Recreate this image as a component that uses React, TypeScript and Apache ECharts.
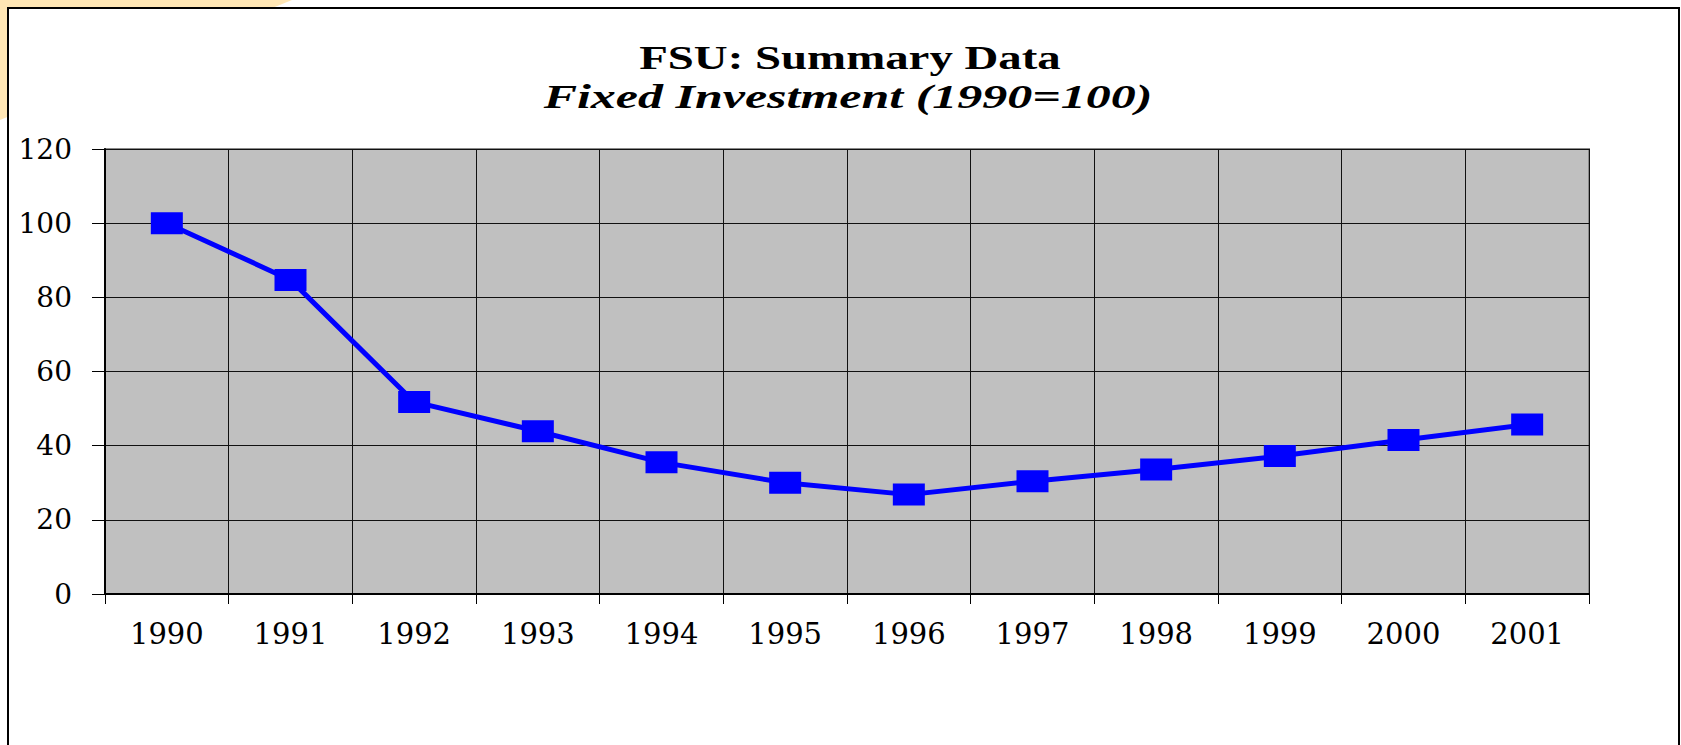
import React, { useEffect, useRef } from "react";
import * as echarts from "echarts";

const years = ["1990", "1991", "1992", "1993", "1994", "1995", "1996", "1997", "1998", "1999", "2000", "2001"];
const fixedInvestment = [100, 84.7, 51.8, 43.9, 35.5, 30.0, 26.8, 30.4, 33.6, 37.2, 41.5, 45.7];
const yTicks = { min: 0, max: 120, interval: 20 };
const titleText = "FSU: Summary Data";
const subtitleText = "Fixed Investment (1990=100)";

export default function App() {
  const ref = useRef<HTMLDivElement>(null);
  useEffect(() => {
    if (!ref.current) return;
    const chart = echarts.init(ref.current, undefined, { renderer: "svg" });
    const serif = '"Liberation Serif", "Times New Roman", serif';
    const labelFont = '"DejaVu Serif", serif';
    chart.setOption({
      animation: false,
      backgroundColor: "#ffffff",
      graphic: [
        {
          type: "polygon",
          z: -20,
          shape: { points: [[0, 0], [292, 0], [0, 120]] },
          style: { fill: "#FFE6B4" },
        },
        {
          type: "rect",
          z: -10,
          shape: { x: 8, y: 8, width: 1671, height: 780 },
          style: { fill: "#ffffff", stroke: "#000000", lineWidth: 2 },
        },
        {
          type: "text",
          z: 100,
          x: 850,
          y: 58,
          scaleX: 1.42,
          style: {
            text: titleText,
            x: 0,
            y: 0,
            align: "center",
            verticalAlign: "middle",
            fontFamily: serif,
            fontWeight: "bold",
            fontSize: 33,
            fill: "#000000",
          },
        },
        {
          type: "text",
          z: 100,
          x: 848,
          y: 97,
          scaleX: 1.515,
          style: {
            text: subtitleText,
            x: 0,
            y: 0,
            align: "center",
            verticalAlign: "middle",
            fontFamily: serif,
            fontWeight: "bold",
            fontStyle: "italic",
            fontSize: 33,
            fill: "#000000",
          },
        },
      ],
      grid: {
        left: 105,
        right: 92,
        top: 149,
        bottom: 151,
        show: true,
        backgroundColor: "#C0C0C0",
        borderColor: "#8a8a8a",
        borderWidth: 2,
      },
      xAxis: {
        type: "category",
        data: years,
        boundaryGap: true,
        axisLine: { show: true, lineStyle: { color: "#000000", width: 2 } },
        axisTick: { show: true, length: 10, interval: 0, lineStyle: { color: "#000000", width: 1 } },
        axisLabel: {
          interval: 0,
          margin: 25,
          fontFamily: labelFont,
          fontSize: 29,
          color: "#000000",
        },
        splitLine: { show: true, interval: 0, lineStyle: { color: "#111111", width: 1 } },
      },
      yAxis: {
        type: "value",
        min: yTicks.min,
        max: yTicks.max,
        interval: yTicks.interval,
        axisLine: { show: true, lineStyle: { color: "#000000", width: 2 } },
        axisTick: { show: true, length: 13, lineStyle: { color: "#000000", width: 1 } },
        axisLabel: {
          margin: 33,
          fontFamily: labelFont,
          fontSize: 28,
          color: "#000000",
        },
        splitLine: { show: true, lineStyle: { color: "#111111", width: 1 } },
      },
      series: [
        {
          type: "line",
          data: fixedInvestment,
          symbol: "rect",
          symbolSize: [32, 22],
          showSymbol: true,
          lineStyle: { color: "#0000FF", width: 5 },
          itemStyle: { color: "#0000FF", borderColor: "#0000FF", borderWidth: 0 },
          emphasis: { disabled: true },
        },
      ],
    });
    return () => chart.dispose();
  }, []);
  return (
    <div
      ref={ref}
      style={{ position: "absolute", left: 0, top: 0, width: 1681, height: 745 }}
    />
  );
}
